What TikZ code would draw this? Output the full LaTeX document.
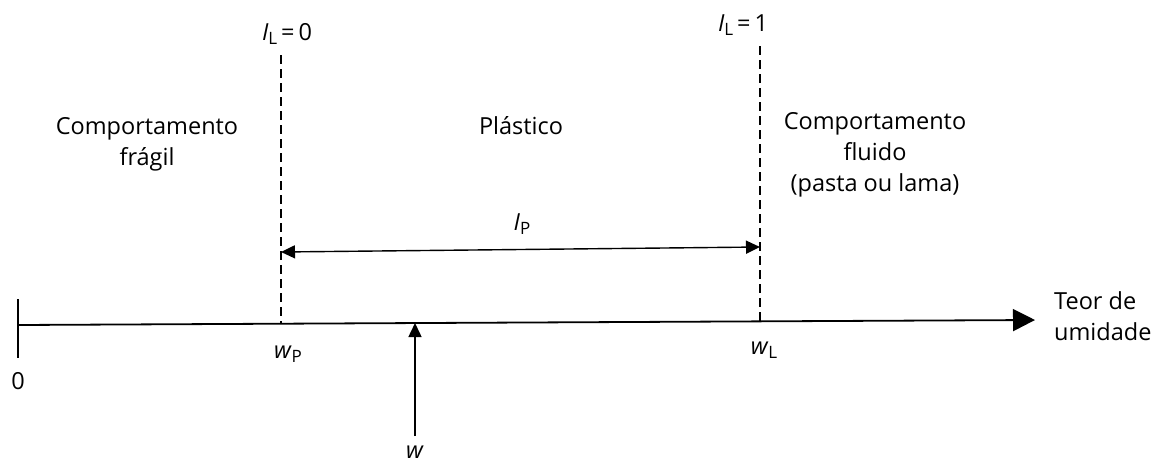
\documentclass[tikz,border=0pt]{standalone}
\usepackage{fontspec}
\setmainfont{Open Sans}
\usetikzlibrary{arrows.meta}
\newcommand{\subL}[1]{\raisebox{-0.35ex}{\fontsize{17}{17}\selectfont #1}}
\begin{document}
\begin{tikzpicture}[x=1pt,y=-1pt,
  lbl/.style={inner sep=0pt, font=\fontsize{23.5}{31}\selectfont, align=center},
  axisline/.style={line width=1.8pt, -{Triangle[length=22pt,width=22pt]}},
  dimline/.style={line width=1.4pt, {Triangle[length=14pt,width=13pt]}-{Triangle[length=14pt,width=13pt]}},
  dashline/.style={line width=1.4pt, dash pattern=on 9pt off 5pt},
  warrow/.style={line width=1.5pt, -{Triangle[length=14pt,width=13pt]}}]
\useasboundingbox (0,0) rectangle (1156,466);
% axis
\coordinate (o) at (18,325);
\coordinate (axend) at (1035,320);
\coordinate (tickt) at (18,299);
\coordinate (tickb) at (18,358);
\draw[axisline] (o) -- (axend);
\draw[line width=1.5pt] (tickt) -- (tickb);
\node[lbl] (zero) at (18,381) {0};
% plastic limit
\coordinate (wpTop) at (281,55);
\coordinate (wpBot) at (281,324);
\draw[dashline] (wpTop) -- (wpBot);
\node[lbl] (il0) at (287,34) {\textit{I}\subL{L}\,=\,0};
\node[lbl] (wp) at (288,354) {\textit{w}\subL{P}};
% liquid limit
\coordinate (wlTop) at (760,46);
\coordinate (wlBot) at (760,322);
\draw[dashline] (wlTop) -- (wlBot);
\node[lbl] (il1) at (743,25) {\textit{I}\subL{L}\,=\,1};
\node[lbl] (wl) at (764,350) {\textit{w}\subL{L}};
% plasticity index
\coordinate (ipL) at (281,252);
\coordinate (ipR) at (760,247);
\draw[dimline] (ipL) -- (ipR);
\node[lbl] (ip) at (522,224) {\textit{I}\subL{P}};
% w arrow
\coordinate (wBot) at (415,436);
\coordinate (wTop) at (415,323);
\draw[warrow] (wBot) -- (wTop);
\node[lbl] (w) at (415,452) {\textit{w}};
% regions
\node[lbl] (fragil) at (147,144) {Comportamento\\frágil};
\node[lbl] (plast) at (521,126) {Plástico};
\node[lbl] (fluido) at (875,155) {Comportamento\\fluido\\(pasta ou lama)};
\node[lbl, align=left, anchor=west] (teor) at (1054,316) {Teor de\\umidade};
\end{tikzpicture}
\end{document}
